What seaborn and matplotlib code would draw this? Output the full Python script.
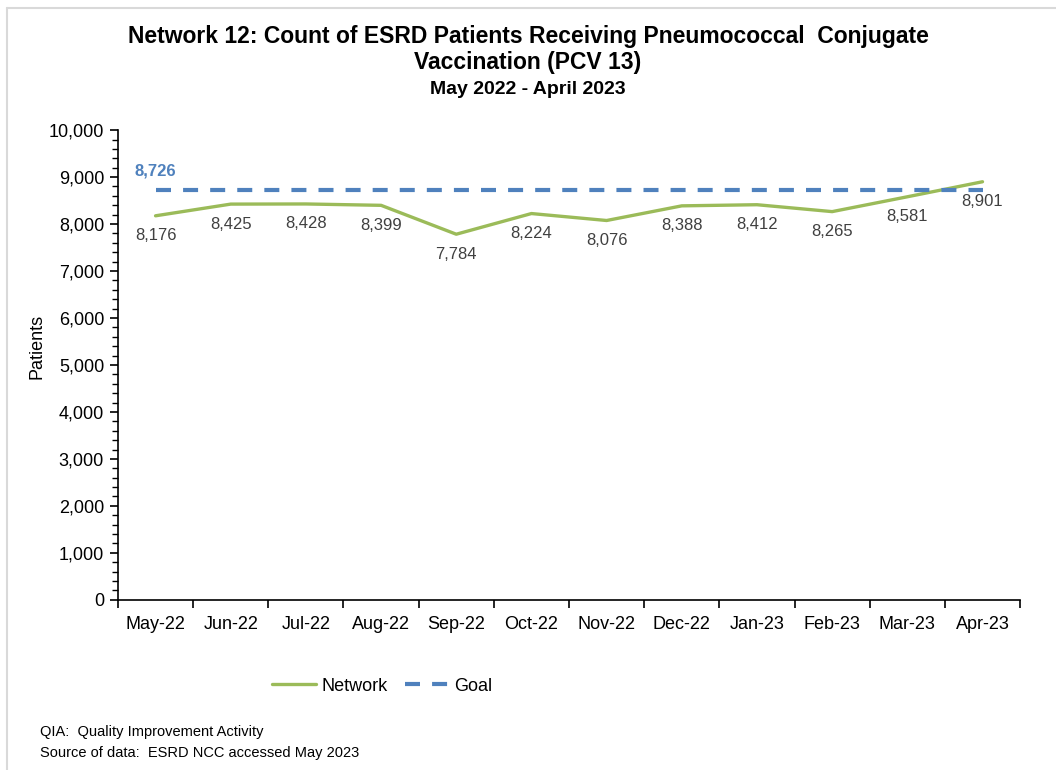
import matplotlib
matplotlib.use("Agg")
import matplotlib.pyplot as plt
import seaborn as sns
import pandas as pd
from matplotlib.ticker import MultipleLocator, FuncFormatter, FixedLocator
from matplotlib.lines import Line2D

months = ["May-22", "Jun-22", "Jul-22", "Aug-22", "Sep-22", "Oct-22",
          "Nov-22", "Dec-22", "Jan-23", "Feb-23", "Mar-23", "Apr-23"]
network = [8176, 8425, 8428, 8399, 7784, 8224, 8076, 8388, 8412, 8265, 8581, 8901]
goal = [8726] * 12

title1 = "Network 12: Count of ESRD Patients Receiving Pneumococcal  Conjugate"
title2 = "Vaccination (PCV 13)"
subtitle = "May 2022 - April 2023"
footer1 = "QIA:  Quality Improvement Activity"
footer2 = "Source of data:  ESRD NCC accessed May 2023"

GREEN = "#9BBB59"
BLUE = "#4F81BD"

sns.set_style("white")
plt.rcParams['font.family'] = ['Liberation Sans', 'DejaVu Sans']
plt.rcParams['text.color'] = 'black'
plt.rcParams['axes.labelcolor'] = 'black'
plt.rcParams['xtick.color'] = 'black'
plt.rcParams['ytick.color'] = 'black'

df = pd.DataFrame({"pos": range(len(months)), "month": months,
                   "Network": network, "Goal": goal})

fig = plt.figure(figsize=(10.56, 7.7), dpi=100)
ax = fig.add_axes([0.1117, 0.221, 0.8543, 0.61])

sns.lineplot(data=df, x="pos", y="Network", ax=ax, color=GREEN, linewidth=2.4,
             label="Network", legend=False)
sns.lineplot(data=df, x="pos", y="Goal", ax=ax, color=BLUE, linewidth=3.0,
             label="Goal", legend=False, dashes=False)
ax.lines[1].set_dashes((3.6, 2.9))

for i, v in enumerate(network):
    ax.annotate(f"{v:,}", (i, v), xytext=(0, -9), textcoords="offset points",
                ha="center", va="top", fontsize=12, color="#404040")
ax.annotate(f"{goal[0]:,}", (0, goal[0]), xytext=(0, 8), textcoords="offset points",
            ha="center", va="bottom", fontsize=12, color=BLUE, fontweight="bold")

ax.set_xlim(-0.5, len(months) - 0.5)
ax.set_ylim(0, 10000)
ax.yaxis.set_major_locator(MultipleLocator(1000))
ax.yaxis.set_minor_locator(MultipleLocator(200))
ax.yaxis.set_major_formatter(FuncFormatter(lambda v, p: f"{int(v):,}"))

ax.xaxis.set_major_locator(FixedLocator([i - 0.5 for i in range(len(months) + 1)]))
ax.xaxis.set_major_formatter(FuncFormatter(lambda v, p: ""))
ax.set_xticks(range(len(months)), labels=months, minor=True)

ax.tick_params(axis="x", which="major", direction="out", length=6, width=1.2, color="black", bottom=True)
ax.tick_params(axis="x", which="minor", length=0, labelsize=13, pad=12, colors="black")
ax.tick_params(axis="y", which="major", direction="out", length=6, width=1.2, color="black",
               labelsize=13, left=True, pad=4, labelcolor="black")
ax.tick_params(axis="y", which="minor", direction="out", length=4, width=1.0, color="black", left=True)

for s in ["top", "right"]:
    ax.spines[s].set_visible(False)
for s in ["left", "bottom"]:
    ax.spines[s].set_color("black")
    ax.spines[s].set_linewidth(1.2)

ax.set_xlabel("")
ax.set_ylabel("Patients", fontsize=13, color="black")
ax.yaxis.set_label_coords(-0.08, 0.54)

fig.text(0.5, 1 - 37 / 770, title1, ha="center", va="center", fontsize=16.5,
         fontweight="bold", color="black")
fig.text(0.5, 1 - 63 / 770, title2, ha="center", va="center", fontsize=16.5,
         fontweight="bold", color="black")
fig.text(0.5, 1 - 89 / 770, subtitle, ha="center", va="center", fontsize=14,
         fontweight="bold", color="black")

handles = [Line2D([0], [0], color=GREEN, lw=2.4),
           Line2D([0], [0], color=BLUE, lw=3.0, dashes=(3.6, 2.9))]
fig.legend(handles, ["Network", "Goal"], loc="center", bbox_to_anchor=(0.362, 0.109),
           ncol=2, frameon=False, fontsize=13, handlelength=2.4, columnspacing=1.0,
           handletextpad=0.3)

fig.text(40 / 1056, 1 - 732 / 770, footer1, ha="left", va="center", fontsize=10.5)
fig.text(40 / 1056, 1 - 753 / 770, footer2, ha="left", va="center", fontsize=10.5)

fig.add_artist(Line2D([7 / 1056, 1], [1 - 8 / 770, 1 - 8 / 770], transform=fig.transFigure,
                      color="#D9D9D9", lw=1.5))
fig.add_artist(Line2D([7 / 1056, 7 / 1056], [0, 1 - 8 / 770], transform=fig.transFigure,
                      color="#D9D9D9", lw=1.5))

fig.savefig("out.png", dpi=100, facecolor="white")
